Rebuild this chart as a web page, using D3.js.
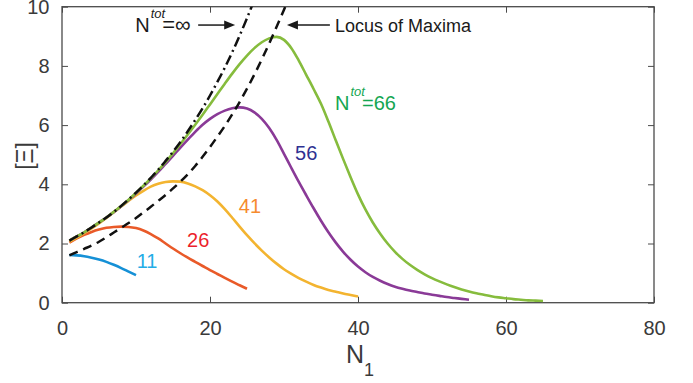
<!DOCTYPE html>
<html>
<head>
<meta charset="utf-8">
<script src="https://cdn.jsdelivr.net/npm/d3@7/dist/d3.min.js"></script>
<style>
  body { margin: 0; background: #fff; }
  text { font-family: "Liberation Sans", Arial, Helvetica, sans-serif; }
</style>
</head>
<body>
<div id="chart"></div>
<script>
// [Xi] against N1; every array starts at N1 = 1 and goes up by 1
const xi11 = [1.61, 1.60, 1.57, 1.52, 1.46, 1.38, 1.28, 1.17, 1.05, 0.93];
const xi26 = [2.03, 2.17, 2.29, 2.39, 2.47, 2.53, 2.56, 2.57, 2.56, 2.52, 2.44, 2.32, 2.17,
  2.00, 1.83, 1.67, 1.52, 1.38, 1.24, 1.10, 0.97, 0.84, 0.71, 0.59, 0.47];
const xi41 = [2.06, 2.20, 2.35, 2.51, 2.68, 2.86, 3.06, 3.25, 3.44, 3.62, 3.78, 3.92, 4.02,
  4.08, 4.10, 4.09, 4.03, 3.93, 3.80, 3.63, 3.42, 3.16, 2.87, 2.57, 2.28, 2.01, 1.76, 1.53,
  1.32, 1.13, 0.97, 0.83, 0.71, 0.60, 0.51, 0.43, 0.37, 0.31, 0.26, 0.21];
const xi56 = [2.10, 2.24, 2.38, 2.54, 2.71, 2.88, 3.06, 3.26, 3.47, 3.69, 3.92, 4.16, 4.42,
  4.69, 4.96, 5.24, 5.51, 5.77, 6.01, 6.21, 6.37, 6.49, 6.57, 6.60, 6.56, 6.43, 6.21, 5.90,
  5.50, 5.03, 4.55, 4.08, 3.63, 3.19, 2.77, 2.38, 2.03, 1.72, 1.45, 1.22, 1.03, 0.87, 0.74,
  0.63, 0.54, 0.47, 0.41, 0.36, 0.31, 0.27, 0.23, 0.19, 0.16, 0.13, 0.10];
const xi66 = [2.10, 2.24, 2.38, 2.54, 2.71, 2.88, 3.07, 3.27, 3.48, 3.71, 3.95, 4.20, 4.47,
  4.75, 5.05, 5.36, 5.68, 6.01, 6.35, 6.70, 7.05, 7.40, 7.74, 8.06, 8.35, 8.60, 8.80, 8.93,
  8.98, 8.88, 8.60, 8.18, 7.70, 7.22, 6.72, 6.12, 5.48, 4.85, 4.24, 3.66, 3.15, 2.71, 2.33,
  2.00, 1.72, 1.48, 1.28, 1.11, 0.96, 0.83, 0.72, 0.62, 0.53, 0.45, 0.38, 0.32, 0.27, 0.22,
  0.18, 0.15, 0.12, 0.10, 0.08, 0.07, 0.06];
const xiInf = [2.10, 2.24, 2.38, 2.54, 2.71, 2.88, 3.07, 3.27, 3.49, 3.72, 3.96, 4.22, 4.49,
  4.79, 5.10, 5.43, 5.79, 6.17, 6.57, 7.00, 7.46, 7.94, 8.46, 9.02, 9.61, 10.24];
const xiLocus = [1.60, 1.71, 1.82, 1.93, 2.06, 2.21, 2.37, 2.53, 2.69, 2.86, 3.05, 3.24, 3.44,
  3.64, 3.86, 4.09, 4.34, 4.62, 4.93, 5.26, 5.61, 5.97, 6.36, 6.78, 7.23, 7.71, 8.22, 8.76,
  9.32, 9.90, 10.50];

const curveColors = ['#1590d6', '#e95a29', '#f3b430', '#8a3a97', '#86bc3d'];
const xTicks = [0, 20, 40, 60, 80];
const yTicks = [0, 2, 4, 6, 8, 10];

const svgWidth = 693;
const svgHeight = 383;
const margin = { top: 6.7, right: 39, bottom: 80.3, left: 62 };
const width = svgWidth - margin.left - margin.right;
const height = svgHeight - margin.top - margin.bottom;
const axisColor = '#4a4a4a';

const svg = d3.select('#chart').append('svg')
  .attr('width', svgWidth)
  .attr('height', svgHeight);

const x = d3.scaleLinear().domain([0, 80]).range([0, width]);
const y = d3.scaleLinear().domain([0, 10]).range([height, 0]);

const chart = svg.append('g')
  .attr('transform', 'translate(' + margin.left + ',' + margin.top + ')');

chart.append('clipPath').attr('id', 'plotclip')
  .append('rect').attr('width', width).attr('height', height);

// axes, ticks pointing inwards on all four sides
function styleAxis(g) {
  g.select('.domain').remove();
  g.selectAll('line').attr('stroke', axisColor).attr('stroke-width', 1);
  g.selectAll('text').attr('fill', '#3a3a3a').attr('font-size', 20)
    .style('font-family', '"Liberation Sans", Arial, Helvetica, sans-serif');
}

chart.append('g')
  .attr('transform', 'translate(0,' + height + ')')
  .call(d3.axisBottom(x).tickValues(xTicks).tickSize(-6).tickPadding(18))
  .call(styleAxis);
chart.append('g')
  .call(d3.axisLeft(y).tickValues(yTicks).tickSize(-6).tickPadding(12.5))
  .call(styleAxis);
chart.append('g')
  .call(d3.axisTop(x).tickValues(xTicks).tickSize(-6).tickFormat(''))
  .call(styleAxis);
chart.append('g')
  .attr('transform', 'translate(' + width + ',0)')
  .call(d3.axisRight(y).tickValues(yTicks).tickSize(-6).tickFormat(''))
  .call(styleAxis);

chart.append('rect')
  .attr('width', width).attr('height', height)
  .attr('fill', 'none').attr('stroke', axisColor).attr('stroke-width', 1.3);

const line = d3.line()
  .x((d, i) => x(i + 1))
  .y(d => y(d))
  .curve(d3.curveMonotoneX);

const plot = chart.append('g').attr('clip-path', 'url(#plotclip)');

[xi11, xi26, xi41, xi56, xi66].forEach((vals, k) => {
  plot.append('path')
    .datum(vals)
    .attr('d', line)
    .attr('fill', 'none')
    .attr('stroke', curveColors[k])
    .attr('stroke-width', 2.6);
});

plot.append('path')
  .datum(xiLocus)
  .attr('d', line)
  .attr('fill', 'none')
  .attr('stroke', '#111')
  .attr('stroke-width', 2.5)
  .attr('stroke-dasharray', '9,6');

plot.append('path')
  .datum(xiInf)
  .attr('d', line)
  .attr('fill', 'none')
  .attr('stroke', '#111')
  .attr('stroke-width', 2.5)
  .attr('stroke-dasharray', '10,4,2,4');

// curve labels
function label(n, v, txt, color) {
  chart.append('text')
    .attr('x', x(n)).attr('y', y(v))
    .attr('font-size', 20).attr('fill', color)
    .text(txt);
}
label(10.1, 1.17, '11', '#23ace6');
label(16.9, 1.88, '26', '#ec1f2c');
label(23.9, 3.03, '41', '#f68b2e');
label(31.5, 4.82, '56', '#2e3192');

function ntotLabel(n, v, rest, color, restSize) {
  const t = chart.append('text')
    .attr('x', x(n)).attr('y', y(v))
    .attr('font-size', 20).attr('fill', color);
  t.append('tspan').text('N');
  t.append('tspan').attr('font-size', 13).attr('font-style', 'italic')
    .attr('dy', -14).attr('dx', 1).text('tot');
  t.append('tspan').attr('dy', 14).attr('dx', -3).attr('font-size', restSize).text(rest);
  return t;
}
ntotLabel(36.9, 6.51, '=66', '#14a651', 20);
ntotLabel(9.9, 9.14, '=\u221e', '#1a1a1a', 22);

chart.append('text')
  .attr('x', x(36.9)).attr('y', y(9.16))
  .attr('font-size', 18).attr('fill', '#1a1a1a')
  .text('Locus of Maxima');

// arrows
function arrow(n0, n1, v) {
  const x0 = x(n0), x1 = x(n1), yy = y(v);
  const dir = Math.sign(x1 - x0);
  chart.append('line')
    .attr('x1', x0).attr('x2', x1 - dir * 8).attr('y1', yy).attr('y2', yy)
    .attr('stroke', '#1a1a1a').attr('stroke-width', 1.5);
  chart.append('path')
    .attr('d', 'M' + x1 + ',' + yy + 'L' + (x1 - dir * 11) + ',' + (yy - 4.5) +
      'L' + (x1 - dir * 11) + ',' + (yy + 4.5) + 'Z')
    .attr('fill', '#1a1a1a');
}
arrow(18.4, 23.4, 9.38);
arrow(36.2, 30.4, 9.38);

// axis titles
const xl = svg.append('text')
  .attr('x', 346).attr('y', 363)
  .attr('font-size', 25).attr('fill', '#3a3a3a');
xl.append('tspan').text('N');
xl.append('tspan').attr('font-size', 18).attr('dy', 13).text('1');

svg.append('text')
  .attr('transform', 'translate(33,156) rotate(-90)')
  .attr('text-anchor', 'middle')
  .attr('font-size', 23).attr('fill', '#3a3a3a')
  .text('[\u039e]');
</script>
</body>
</html>
